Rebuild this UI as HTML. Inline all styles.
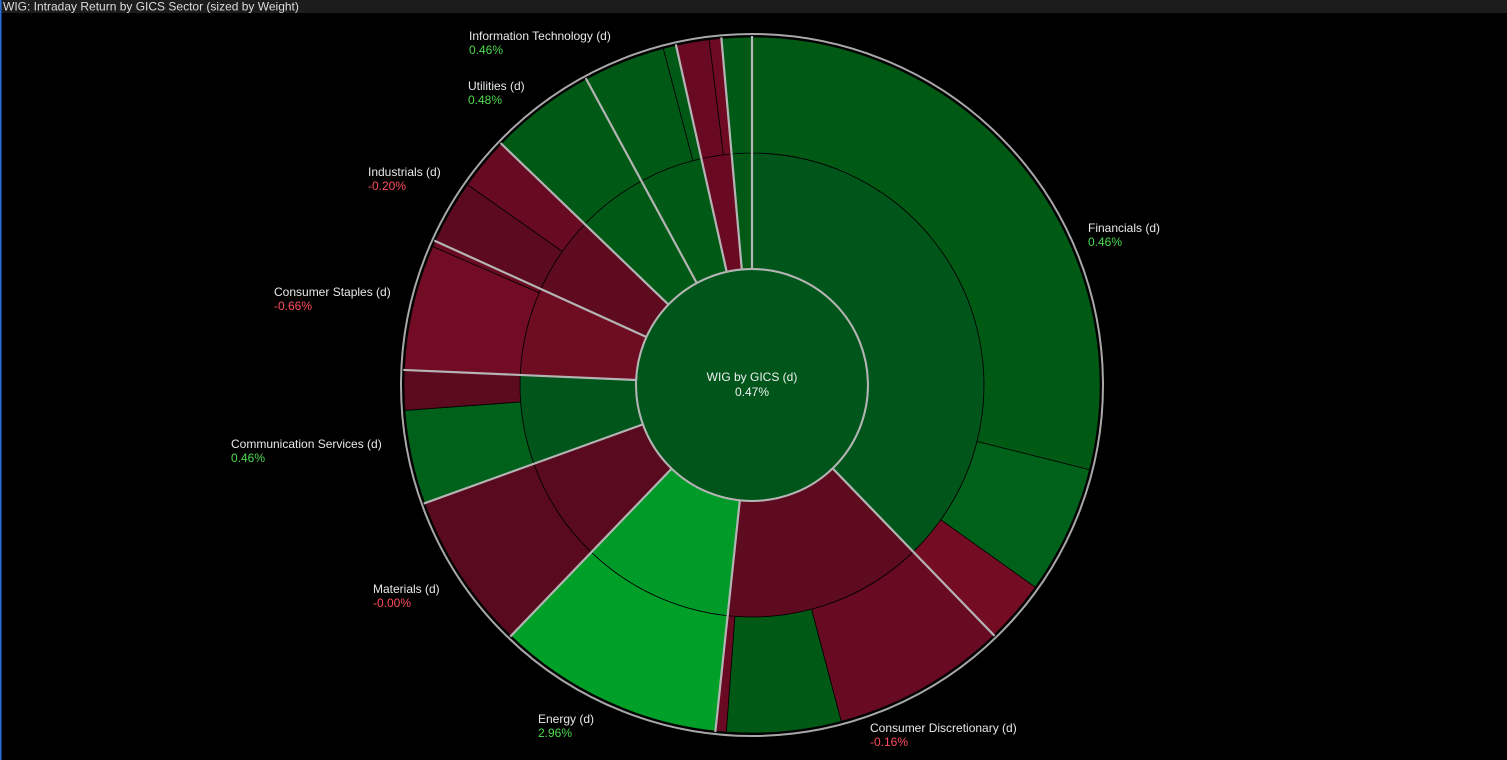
<!DOCTYPE html>
<html><head><meta charset="utf-8"><style>
html,body{margin:0;padding:0;background:#000;width:1507px;height:760px;overflow:hidden}
svg text{font-family:"Liberation Sans",sans-serif}
</style></head><body>
<svg id="chart" width="1507" height="760" xmlns="http://www.w3.org/2000/svg">
<rect x="0" y="0" width="1507" height="760" fill="#000"/>
<rect x="0" y="0" width="1507" height="13" fill="#1c1c1c"/>
<rect x="0" y="0" width="1.5" height="760" fill="#2a6fd6"/>
<text x="3" y="10.5" font-size="12" fill="#dcdcdc">WIG: Intraday Return by GICS Sector (sized by Weight)</text>
<g id="rings"></g>
<g id="labels"></g>
</svg>
<script>
const sectors = ["Financials","Consumer Discretionary","Energy","Materials","Communication Services","Consumer Staples","Industrials","Utilities","Information Technology","Health Care","Real Estate"];
const weights = [37.75,13.9,10.5,7.3,6.2,6.1,5.4,4.9,4.4,2.1,1.4];
const returns = [0.46,-0.16,2.96,-0.00,0.46,-0.66,-0.20,0.48,0.46,-0.30,0.20];
const labelled = [true,true,true,true,true,true,true,true,true,false,false];
const childWeights = [[28.9,5.95,2.9],[8.1,5.3,0.5],[10.5],[7.3],[4.35,1.85],[5.85,0.28],[3.0,2.45],[4.9],[3.8,0.6],[1.5,0.55],[1.4]];
const childReturns = [[0.45,0.6,-0.5],[-0.2,0.3,-0.4],[2.96],[-0.00],[0.5,-0.4],[-0.7,-0.5],[-0.1,-0.3],[0.48],[0.46,0.4],[-0.3,-0.4],[0.2]];
const rootLabel = "WIG by GICS (d)";
const rootReturn = 0.47;
// styles
const midColors = ["#00561a","#5e0a1f","#009a28","#5a0a1e","#00561a","#6e0c22","#5e0a1f","#005a16","#005a16","#6a0a22","#005a16"];
const childColors = [["#005a14","#00621a","#740c24"],["#680a22","#005a16","#6a0a22"],["#00a028"],["#5a0a1e"],["#00621a","#5c0a1e"],["#720c24","#6a0a22"],["#5c0a1f","#680a22"],["#005a16"],["#005a16","#005a16"],["#6a0a22","#6e0a22"],["#005a16"]];
const labelPos = [[1088,228],[870,728],[538,719],[373,589],[231,444],[274,292],[368,172],[468,86],[469,36]];

const cx=752, cy=385, r0=116, r1=232, r2=348;
const NS="http://www.w3.org/2000/svg";
const ring=document.getElementById('rings'), lab=document.getElementById('labels');
const total=weights.reduce((a,b)=>a+b,0);
function ang(v){return v/total*2*Math.PI;}
function pt(a,r){return [cx+r*Math.sin(a), cy-r*Math.cos(a)];}
function arcPath(a0,a1,ri,ro){
  const [x0,y0]=pt(a0,ro),[x1,y1]=pt(a1,ro),[x2,y2]=pt(a1,ri),[x3,y3]=pt(a0,ri);
  const l=(a1-a0)>Math.PI?1:0;
  return `M${x0},${y0}A${ro},${ro} 0 ${l} 1 ${x1},${y1}L${x2},${y2}A${ri},${ri} 0 ${l} 0 ${x3},${y3}Z`;
}
function mk(tag,attrs){const e=document.createElementNS(NS,tag);for(const k in attrs)e.setAttribute(k,attrs[k]);return e;}
function fmt(v){return (v<0||Object.is(v,-0)?"-":"")+Math.abs(v).toFixed(2)+"%";}

const root=mk('circle',{cx,cy,r:r0,fill:'#00561a',stroke:'#b4b4b4','stroke-width':2});


ring.appendChild(root);
let acc=0; const bounds=[];
sectors.forEach((s,i)=>{
  const a0=ang(acc), a1=ang(acc+weights[i]);
  const m=mk('path',{d:arcPath(a0,a1,r0,r1),fill:midColors[i],stroke:'#000','stroke-width':0.8});
  
  
  ring.appendChild(m);
  const cw=childWeights[i], cs=cw.reduce((a,b)=>a+b,0);
  let c=0;
  cw.forEach((w,j)=>{
    const b0=a0+(a1-a0)*c/cs, b1=a0+(a1-a0)*(c+w)/cs; c+=w;
    const p=mk('path',{d:arcPath(b0,b1,r1,r2),fill:childColors[i][j],stroke:'#000','stroke-width':0.8});
    
    
    ring.appendChild(p);
  });
  bounds.push(a0);
  acc+=weights[i];
});
bounds.forEach(a=>{
  const [x0,y0]=pt(a,r0),[x1,y1]=pt(a,r2+1);
  const l=mk('line',{x1:x0,y1:y0,x2:x1,y2:y1,stroke:'#b4b4b4','stroke-width':2.2});
  
  
  ring.appendChild(l);
});
const rc=mk('circle',{cx,cy,r:r0,fill:'none',stroke:'#b4b4b4','stroke-width':2});
ring.appendChild(rc);
const oc=mk('circle',{cx,cy,r:r2+3,fill:'none',stroke:'#a8a8a8','stroke-width':2});


ring.appendChild(oc);

sectors.forEach((s,i)=>{
  if(!labelled[i]) return;
  const [x,y]=labelPos[i];
  const t=mk('text',{x,y:y+4,'font-size':12,fill:'#e8e8e8'});
  t.textContent=s+" (d)";
  
  
  lab.appendChild(t);
  const v=mk('text',{x,y:y+18,'font-size':12,fill:returns[i]<0||Object.is(returns[i],-0)?'#ff4d5e':'#4ddb4d'});
  v.textContent=fmt(returns[i]);
  
  
  lab.appendChild(v);
});
const ct=mk('text',{x:cx,y:381,'font-size':12,fill:'#f0f0f0','text-anchor':'middle'});
ct.textContent=rootLabel;


lab.appendChild(ct);
const cv=mk('text',{x:cx,y:396,'font-size':12,fill:'#f0f0f0','text-anchor':'middle'});
cv.textContent=fmt(rootReturn);


lab.appendChild(cv);
</script>
</body></html>
